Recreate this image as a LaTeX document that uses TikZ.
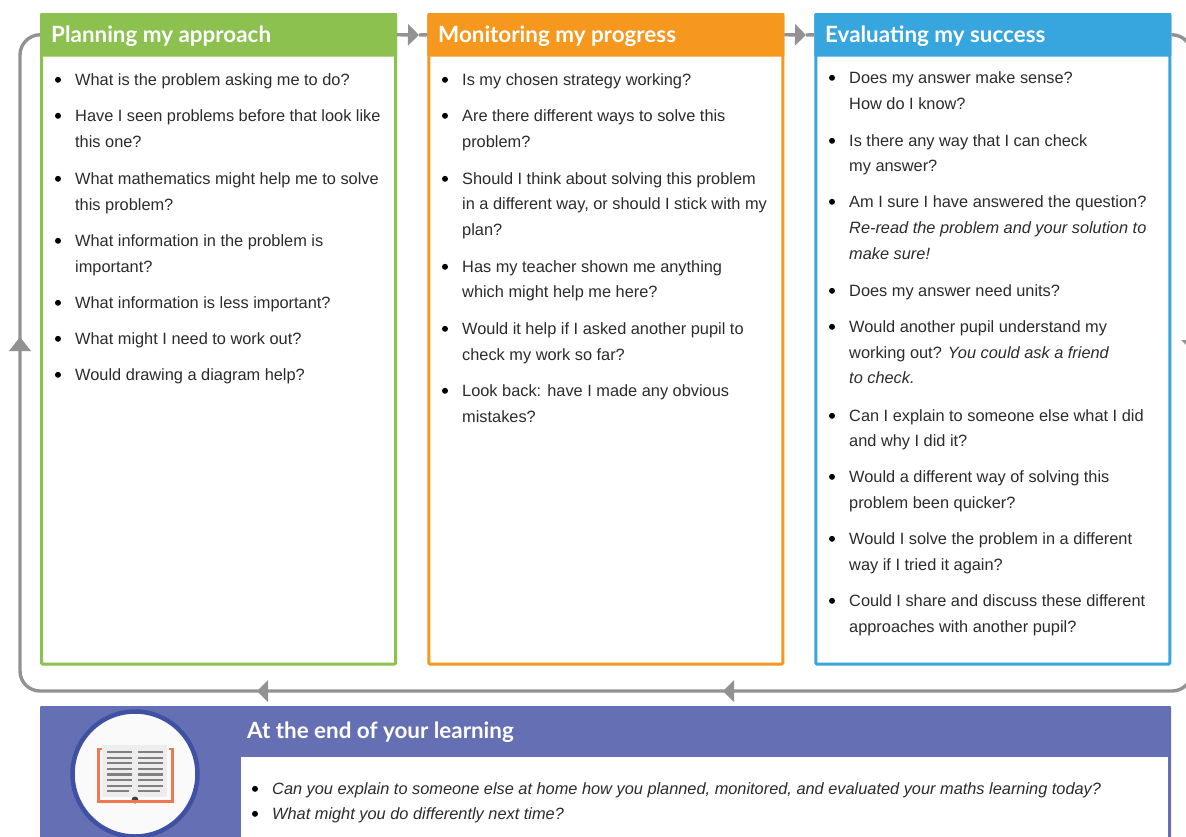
\documentclass[tikz,border=0pt]{standalone}
\usepackage{fontspec}
\setmainfont{Liberation Sans}
\newfontfamily\headfont{Lato}
\usetikzlibrary{arrows.meta,calc}
\definecolor{cgreen}{HTML}{8CC04F}
\definecolor{corange}{HTML}{F5981D}
\definecolor{cblue}{HTML}{38A6DE}
\definecolor{cpurple}{HTML}{6570B4}
\definecolor{cring}{HTML}{3F51A3}
\definecolor{cgrey}{HTML}{929292}
\definecolor{ctext}{HTML}{2B2B2B}
\definecolor{cred}{HTML}{EE7850}
\tikzset{
  panel/.style={draw=#1,line width=3pt,fill=white,anchor=north west,inner sep=0pt,outer sep=0pt,rounded corners=1pt},
  headbar/.style={fill=#1,anchor=north west,inner sep=0pt,outer sep=0pt,rounded corners=1pt},
  headtext/.style={anchor=west,inner sep=0pt,text=white,font=\headfont\bfseries\fontsize{22.4}{24}\selectfont},
  textline/.style={anchor=base west,inner sep=0pt,text=ctext,font=\fontsize{16.35}{18}\selectfont},
  loopline/.style={draw=cgrey,line width=3.4pt},
  tip/.style={fill=cgrey,draw=none}
}
\newcommand{\cont}[4]{\node[textline] (#1) at (#2,#3) {#4};}
\newcommand{\itm}[4]{\fill[black] (#2,#3-5.2) circle (3);\node[textline] (#1) at (#2+17,#3) {#4};}
\begin{document}
\begin{tikzpicture}[x=1pt,y=-1pt]
\useasboundingbox (0,0) rectangle (1186,836);
\fill[white] (0,0) rectangle (1186,836);
% panels
\node[panel=cgreen,minimum width=354pt,minimum height=649pt] (pa) at (41.5,15) {};
\node[panel=corange,minimum width=354pt,minimum height=649pt] (pb) at (428.8,15) {};
\node[panel=cblue,minimum width=354pt,minimum height=649pt] (pc) at (815.8,15) {};
\node[headbar=cgreen,minimum width=357pt,minimum height=43.5pt] (ha) at (40,13) {};
\node[headbar=corange,minimum width=357pt,minimum height=43.5pt] (hb) at (427.3,13) {};
\node[headbar=cblue,minimum width=357pt,minimum height=43.5pt] (hc) at (814.3,13) {};
\node[headtext] (ta) at (51,36.5) {Planning my approach};
\node[headtext] (tb) at (438,36.5) {Monitoring my progress};
\node[headtext] (tc) at (825,36.5) {Evaluating my success};
% connectors
\coordinate (m1) at (419,35);
\coordinate (m2) at (806,35);
\draw[loopline,-{Triangle[length=11pt,width=21pt,fill=cgrey]}] (ha.east) -- (m1);
\draw[loopline] (m1) -- (hb.west);
\draw[loopline,-{Triangle[length=11pt,width=21pt,fill=cgrey]}] (hb.east) -- (m2);
\draw[loopline] (m2) -- (hc.west);
% loop
\draw[loopline,rounded corners=20pt] (hc.east) -- (1192,35) -- (1192,691) -- (20,691) -- (20,35) -- (ha.west);
\fill[tip] (723,691) -- ++(11,-11) -- ++(0,22) -- cycle;
\fill[tip] (257,691) -- ++(11,-11) -- ++(0,22) -- cycle;
\fill[tip] (20,337) -- ++(11,14) -- ++(-22,0) -- cycle;
\fill[tip] (1192,351) -- ++(-11,-11) -- ++(22,0) -- cycle;
% Panel A
\itm{a1}{58}{85}{What is the problem asking me to do?}
\itm{a2}{58}{121}{Have I seen problems before that look like}
\cont{a2b}{75}{147}{this one?}
\itm{a3}{58}{184}{What mathematics might help me to solve}
\cont{a3b}{75}{210}{this problem?}
\itm{a4}{58}{246}{What information in the problem is}
\cont{a4b}{75}{272}{important?}
\itm{a5}{58}{308}{What information is less important?}
\itm{a6}{58}{344}{What might I need to work out?}
\itm{a7}{58}{380}{Would drawing a diagram help?}
% Panel B
\itm{b1t}{445}{85}{Is my chosen strategy working?}
\itm{b2t}{445}{121}{Are there different ways to solve this}
\cont{b2b}{462}{147}{problem?}
\itm{b3t}{445}{184}{Should I think about solving this problem}
\cont{b3b}{462}{209}{in a different way, or should I stick with my}
\cont{b3c}{462}{235}{plan?}
\itm{b4t}{445}{272}{Has my teacher shown me anything}
\cont{b4b}{462}{297}{which might help me here?}
\itm{b5t}{445}{334}{Would it help if I asked another pupil to}
\cont{b5b}{462}{360}{check my work so far?}
\itm{b6t}{445}{396}{Look back: have I made any obvious}
\cont{b6b}{462}{422}{mistakes?}
% Panel C
\itm{c1}{832}{83}{Does my answer make sense?}
\cont{c1b}{849}{109}{How do I know?}
\itm{c2}{832}{146}{Is there any way that I can check}
\cont{c2b}{849}{171}{my answer?}
\itm{c3}{832}{207}{Am I sure I have answered the question?}
\cont{c3b}{849}{233}{\itshape Re-read the problem and your solution to}
\cont{c3c}{849}{259}{\itshape make sure!}
\itm{c4}{832}{296}{Does my answer need units?}
\itm{c5}{832}{332}{Would another pupil understand my}
\cont{c5b}{849}{358}{working out? \itshape You could ask a friend}
\cont{c5c}{849}{383}{\itshape to check.}
\itm{c6}{832}{421}{Can I explain to someone else what I did}
\cont{c6b}{849}{446}{and why I did it?}
\itm{c7}{832}{482}{Would a different way of solving this}
\cont{c7b}{849}{508}{problem been quicker?}
\itm{c8}{832}{544}{Would I solve the problem in a different}
\cont{c8b}{849}{570}{way if I tried it again?}
\itm{c9}{832}{606}{Could I share and discuss these different}
\cont{c9b}{849}{632}{approaches with another pupil?}
% Bottom band
\fill[cpurple,rounded corners=1pt] (40,706) rectangle (1171,850);
\node[headtext] (td) at (247,732) {At the end of your learning};
\node[fill=white,anchor=north west,inner sep=0pt,outer sep=0pt,minimum width=927pt,minimum height=90pt] (pd) at (241,757) {};
\itm{d1}{255}{794}{\itshape Can you explain to someone else at home how you planned, monitored, and evaluated your maths learning today?}
\itm{d2}{255}{819}{\itshape What might you do differently next time?}
% book icon
\node[circle,draw=cring,line width=4.5pt,fill=white!98!black,minimum size=125pt,inner sep=0pt,outer sep=0pt] (ring) at (135,774) {};
\fill[black!7] (102,745) rectangle (167,797);
\foreach \i in {0,...,6}{
  \fill[black!50] (107,{751+5.6*\i}) rectangle (132,{753.2+5.6*\i});
  \fill[black!50] (138,{751+5.6*\i}) rectangle (163,{753.2+5.6*\i});
}
\fill[black!50] (107,790) rectangle (129,792.3);
\fill[black!50] (138,790) rectangle (160,792.3);
\fill[black!75] (135,800) circle (3.5);
\fill[cred] (97,748) rectangle (100,803);
\fill[cred] (171,748) rectangle (174,803);
\fill[cred] (97,800) rectangle (174,803);
\fill[cred] (97,748) rectangle (102,750);
\fill[cred] (169,748) rectangle (174,750);
\end{tikzpicture}
\end{document}
